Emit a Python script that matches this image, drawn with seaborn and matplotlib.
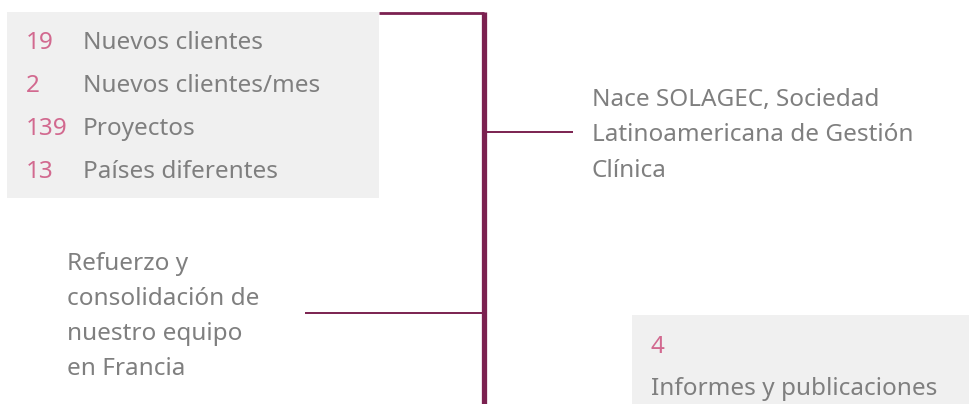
import matplotlib.pyplot as plt
import seaborn as sns
from matplotlib.patches import Rectangle

# Data
stat_values = ['19', '2', '139', '13']
stat_labels = ['Nuevos clientes', 'Nuevos clientes/mes', 'Proyectos', 'Países diferentes']
right_lines = ['Nace SOLAGEC, Sociedad', 'Latinoamericana de Gestión', 'Clínica']
left_lines = ['Refuerzo y', 'consolidación de', 'nuestro equipo', 'en Francia']
report_value = '4'
report_label = 'Informes y publicaciones'

MAROON = '#7b2150'
PINK = '#d2698f'
GREY = '#7f7f7f'
BOX = '#f0f0f0'


def set_style():
    sns.set_theme(style="white")
    plt.rcParams['font.family'] = ['Noto Sans', 'DejaVu Sans']


set_style()
fig = plt.figure(figsize=(9.69, 4.04), dpi=100)
ax = fig.add_axes([0, 0, 1, 1])
ax.set_xlim(0, 969)
ax.set_ylim(404, 0)
ax.axis('off')

fs = 17.5

# grey boxes
ax.add_patch(Rectangle((7, 12), 372, 186, color=BOX, lw=0, zorder=1))
ax.add_patch(Rectangle((632, 315), 337, 95, color=BOX, lw=0, zorder=1))

# timeline
ax.plot([484, 484], [12, 410], color=MAROON, lw=3.8, solid_capstyle='butt', zorder=2)
ax.plot([379, 484], [13, 13], color=MAROON, lw=2.0, solid_capstyle='butt', zorder=2)
ax.plot([486, 573], [131.5, 131.5], color=MAROON, lw=1.4, solid_capstyle='butt', zorder=2)
ax.plot([305, 482], [312.5, 312.5], color=MAROON, lw=1.4, solid_capstyle='butt', zorder=2)

# stats box
for i, (v, lab) in enumerate(zip(stat_values, stat_labels)):
    y = 49.3 + i * 42.9
    ax.text(26, y, v, color=PINK, fontsize=fs, va='baseline', ha='left', zorder=3)
    ax.text(83, y, lab, color=GREY, fontsize=fs, va='baseline', ha='left', zorder=3)

for i, line in enumerate(right_lines):
    ax.text(592, 105.7 + i * 35.7, line, color=GREY, fontsize=fs, va='baseline', ha='left', zorder=3)

for i, line in enumerate(left_lines):
    ax.text(67, 270 + i * 35, line, color=GREY, fontsize=fs, va='baseline', ha='left', zorder=3)

ax.text(651, 353, report_value, color=PINK, fontsize=fs, va='baseline', ha='left', zorder=3)
ax.text(651, 395, report_label, color=GREY, fontsize=fs, va='baseline', ha='left', zorder=3)

plt.savefig('out.png', dpi=100)
